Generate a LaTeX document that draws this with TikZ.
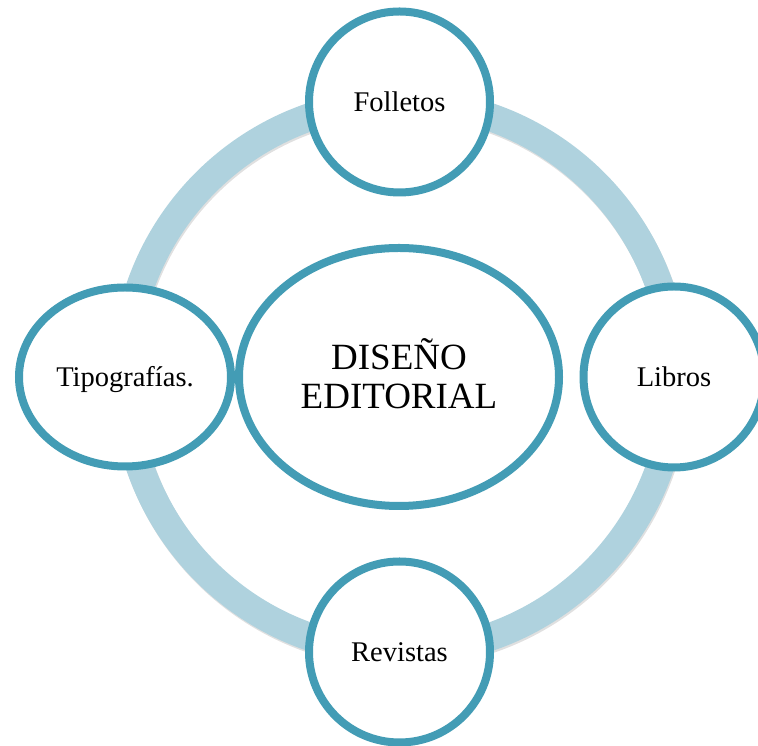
\documentclass[tikz,border=0pt]{standalone}
\usepackage{fontspec}
\setmainfont{Liberation Serif}
\usetikzlibrary{shapes.geometric,shadows}
\definecolor{teal1}{RGB}{67,156,181}
\definecolor{ringblue}{RGB}{175,210,222}
\begin{document}
\begin{tikzpicture}[x=1pt,y=1pt,
  bubble/.style={ellipse, draw=teal1, line width=8pt, fill=white, inner sep=0pt,
    drop shadow={shadow xshift=1.2pt, shadow yshift=-2.5pt, opacity=0.22, fill=black},
    font=\fontsize{28.5}{33}\selectfont, text height=19pt, text depth=0pt},
  centre/.style={bubble, font=\fontsize{37}{39}\selectfont, align=center, text height=64pt, text depth=0pt}
]
\useasboundingbox (0,0) rectangle (758,746);
\fill[white] (0,0) rectangle (758,746);
% ring with faint shadow
\draw[black, opacity=0.12, line width=28pt] (401,367) circle (275);
\draw[ringblue, line width=28pt] (400,369) circle (275);
% nodes
\node[centre, minimum width=320pt, minimum height=258pt] (mid) at (399,369) {DISEÑO\\EDITORIAL};
\node[bubble, minimum width=181pt, minimum height=181pt] (top) at (399.5,644) {Folletos};
\node[bubble, minimum width=181pt, minimum height=181pt] (right) at (674,369) {Libros};
\node[bubble, minimum width=212pt, minimum height=179pt] (left) at (125,369) {Tipografías.};
\node[bubble, minimum width=181pt, minimum height=181pt] (bottom) at (399.5,94) {Revistas};
\end{tikzpicture}
\end{document}
